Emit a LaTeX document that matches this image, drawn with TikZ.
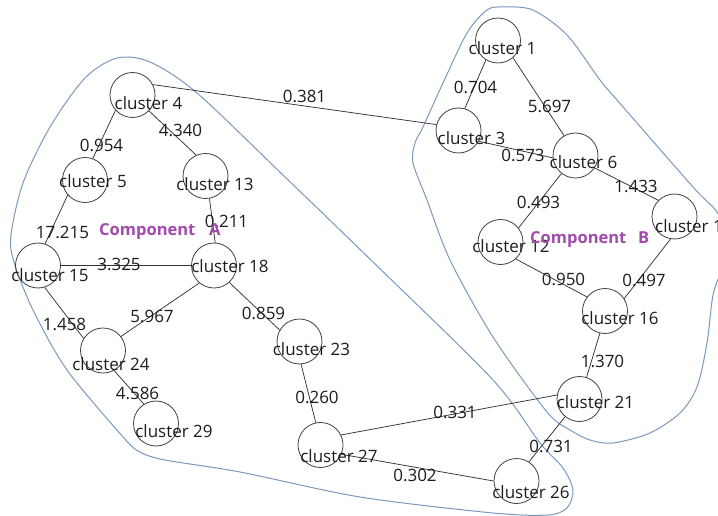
\documentclass[tikz,border=0pt]{standalone}
\usepackage{fontspec}
\setmainfont{Open Sans}
\definecolor{hull}{RGB}{122,152,188}
\definecolor{comp}{RGB}{162,74,172}
\definecolor{ink}{RGB}{28,28,28}

\begin{document}
\begin{tikzpicture}[x=1pt,y=-1pt,
  cl/.style={circle,draw=black!75,line width=0.8pt,minimum size=45pt,inner sep=0pt},
  lbl/.style={anchor=base,inner sep=0pt,text=ink,font=\fontsize{17}{19}\selectfont},
  wt/.style={anchor=base,inner sep=0pt,text=ink,font=\fontsize{17}{19}\selectfont},
  link/.style={draw=black!80,line width=0.75pt},
  hullline/.style={draw=hull,line width=1pt},
  comptext/.style={anchor=base west,inner sep=0pt,text=comp,font=\bfseries\fontsize{16.5}{19}\selectfont}]
\useasboundingbox (0,0) rectangle (718,516);
\clip (0,0) rectangle (718,516);

% component hulls
\draw[hullline] plot[smooth cycle, tension=0.5] coordinates {
  (117,58) (150,62) (197,93) (285,177) (373,262) (493,380) (540,443)
  (563,468) (573,490) (567,508) (548,515) (493,513) (360,497) (240,472)
  (165,460) (140,452) (124,438) (67,370) (33,310) (14,262) (11,235)
  (23,183) (50,127) (85,78)};
\draw[hullline] plot[smooth cycle, tension=0.5] coordinates {
  (503,7) (533,10) (567,35) (600,80) (617,100) (693,187) (717,212)
  (728,240) (722,268) (713,295) (707,343) (697,387) (680,413) (650,433)
  (613,443) (590,440) (570,430) (547,412) (493,337) (450,260) (427,200)
  (413,163) (415,143) (423,127) (443,83) (467,33) (487,10)};

% cluster circles
\node[cl] (c1)  at (498,40.5) {};
\node[cl] (c3)  at (458.5,130.5) {};
\node[cl] (c4)  at (132.5,95) {};
\node[cl] (c5)  at (85,180) {};
\node[cl] (c6)  at (575.5,155.5) {};
\node[cl] (c11) at (674.5,216.5) {};
\node[cl] (c12) at (500.5,242) {};
\node[cl] (c13) at (205.5,176) {};
\node[cl] (c15) at (38,265.5) {};
\node[cl] (c16) at (605,311) {};
\node[cl] (c18) at (214,265.5) {};
\node[cl] (c21) at (579.5,399) {};
\node[cl] (c23) at (299.5,341.5) {};
\node[cl] (c24) at (103,350.5) {};
\node[cl] (c26) at (516.5,481) {};
\node[cl] (c27) at (320.5,445) {};
\node[cl] (c29) at (156,423.5) {};

% links
\draw[link] (c4.27)   -- (c3.165);
\draw[link] (c4.222)  -- (c5.70);
\draw[link] (c4.316)  -- (c13.114);
\draw[link] (c13.280) -- (c18.87);
\draw[link] (c5.221)  -- (c15.72);
\draw[link] (c15.0)   -- (c18.180);
\draw[link] (c15.287) -- (c24.148);
\draw[link] (c18.230) -- (c24.38);
\draw[link] (c18.312) -- (c23.150);
\draw[link] (c24.299) -- (c29.122);
\draw[link] (c23.274) -- (c27.102);
\draw[link] (c27.26)  -- (c21.170);
\draw[link] (c27.336) -- (c26.180);
\draw[link] (c26.57)  -- (c21.231);
\draw[link] (c21.72)  -- (c16.257);
\draw[link] (c16.142) -- (c12.312);
\draw[link] (c16.33)  -- (c11.260);
\draw[link] (c6.327)  -- (c11.135);
\draw[link] (c6.232)  -- (c12.38);
\draw[link] (c3.332)  -- (c6.186);
\draw[link] (c1.238)  -- (c3.74);
\draw[link] (c1.311)  -- (c6.120);

% cluster names
\node[lbl] (t1)  at (502.5,55) {cluster 1};
\node[lbl] (t3)  at (471.5,145) {cluster 3};
\node[lbl] (t4)  at (148.5,110) {cluster 4};
\node[lbl] (t5)  at (93,188) {cluster 5};
\node[lbl] (t6)  at (583.5,168) {cluster 6};
\node[lbl,anchor=base west] (t11) at (655,233) {cluster 1};
\node[lbl] (t12) at (511,252) {cluster 12};
\node[lbl] (t13) at (215,190) {cluster 13};
\node[lbl] (t15) at (50,281) {cluster 15};
\node[lbl] (t16) at (620,324) {cluster 16};
\node[lbl] (t18) at (230,272) {cluster 18};
\node[lbl] (t21) at (595.5,408) {cluster 21};
\node[lbl] (t23) at (311.5,355) {cluster 23};
\node[lbl] (t24) at (111,370) {cluster 24};
\node[lbl] (t26) at (531,498) {cluster 26};
\node[lbl] (t27) at (339,462) {cluster 27};
\node[lbl] (t29) at (174,437) {cluster 29};

% link weights
\node[wt] (w4-3)   at (304.5,103) {0.381};
\node[wt] (w4-5)   at (101.5,152) {0.954};
\node[wt] (w4-13)  at (180.5,137) {4.340};
\node[wt] (w5-15)  at (62.5,238) {17.215};
\node[wt] (w13-18) at (226.5,227) {0.211};
\node[wt] (w15-18) at (119,270) {3.325};
\node[wt] (w15-24) at (64.5,330) {1.458};
\node[wt] (w18-24) at (152,322) {5.967};
\node[wt] (w18-23) at (263.5,319) {0.859};
\node[wt] (w24-29) at (137.5,399) {4.586};
\node[wt] (w23-27) at (317,403) {0.260};
\node[wt] (w27-21) at (455,418) {0.331};
\node[wt] (w27-26) at (415,481) {0.302};
\node[wt] (w26-21) at (551,452) {0.731};
\node[wt] (w21-16) at (602.5,367) {1.370};
\node[wt] (w16-12) at (563.5,285) {0.950};
\node[wt] (w16-11) at (644,286) {0.497};
\node[wt] (w6-11)  at (636,193) {1.433};
\node[wt] (w6-12)  at (538.5,208) {0.493};
\node[wt] (w3-6)   at (523,162) {0.573};
\node[wt] (w1-3)   at (475.5,94) {0.704};
\node[wt] (w1-6)   at (549.5,113) {5.697};

% component captions
\node[comptext] (compA) at (99,236) {\makebox[110pt][l]{Component}A};
\node[comptext] (compB) at (530,243) {\makebox[108pt][l]{Component}B};
\end{tikzpicture}
\end{document}
